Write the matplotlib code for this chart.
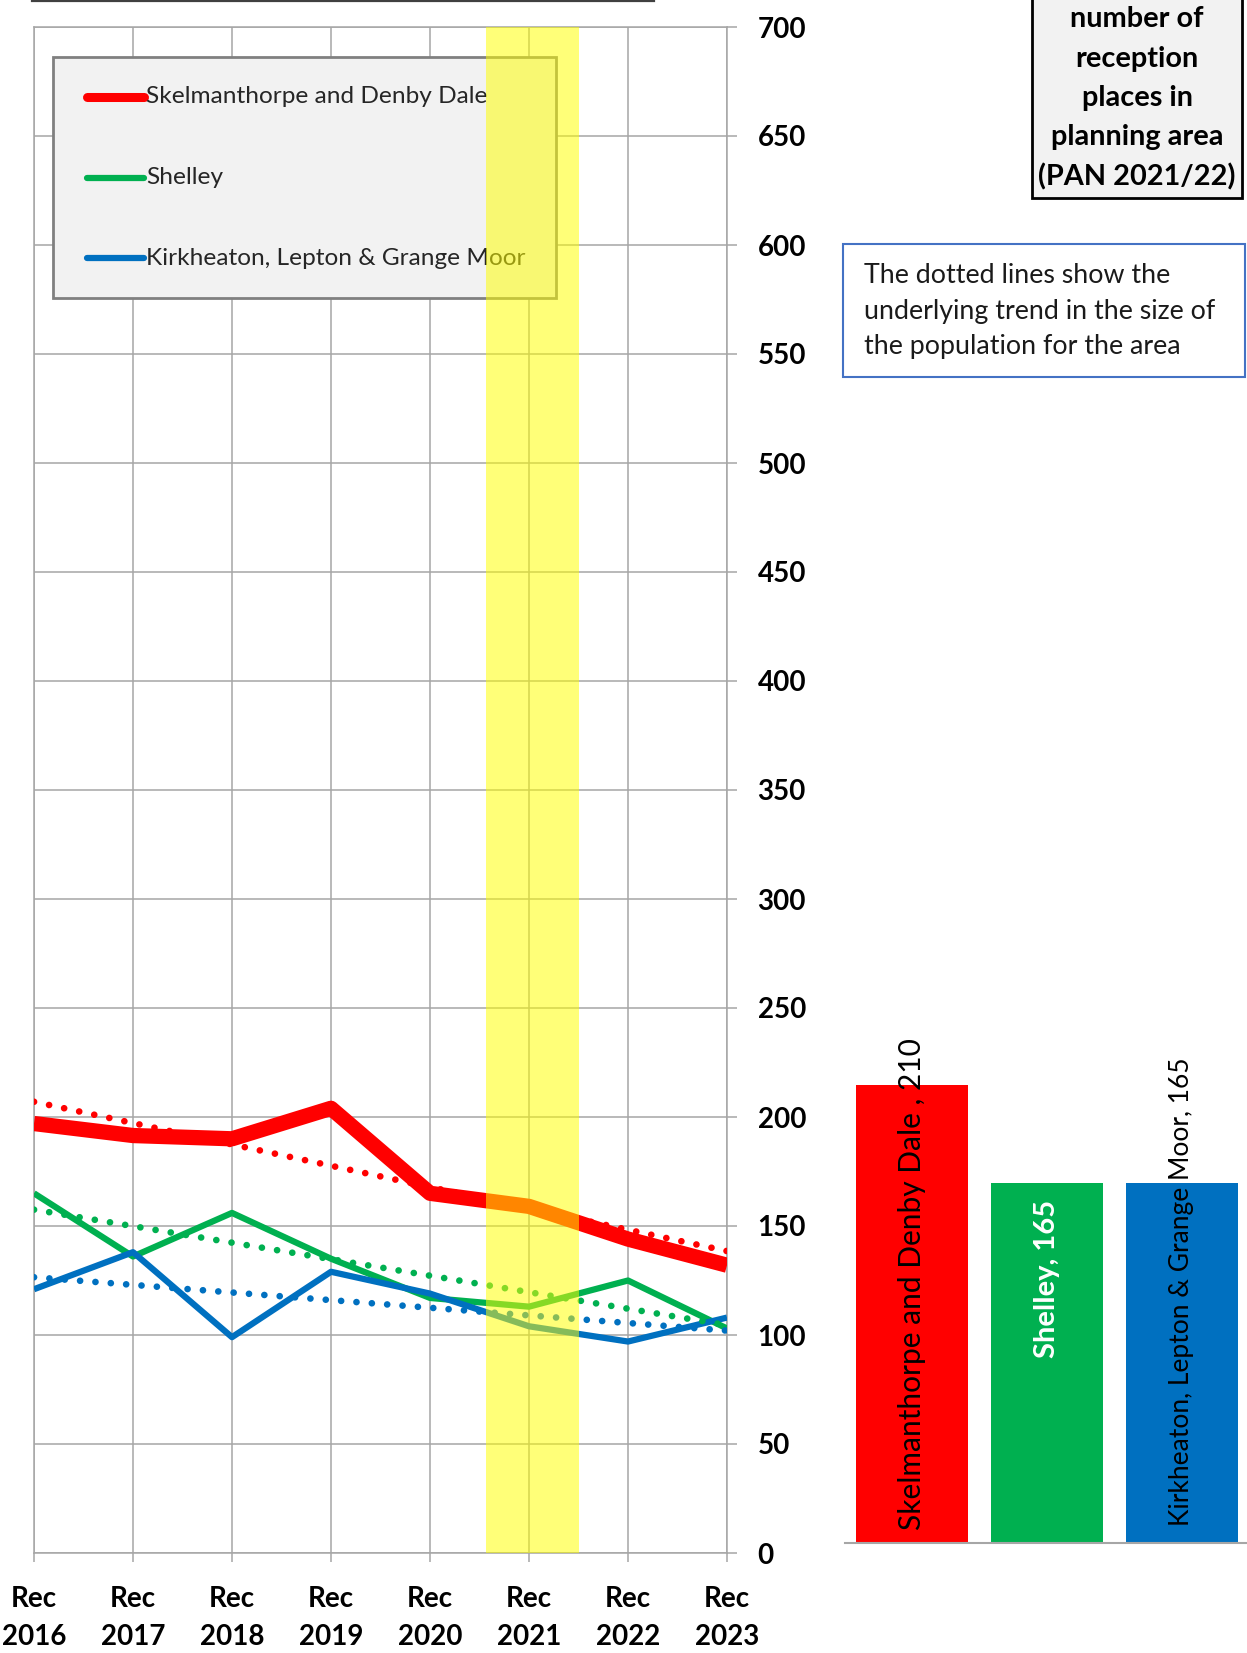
import matplotlib
matplotlib.use("Agg")
import matplotlib.pyplot as plt
from matplotlib.lines import Line2D
from matplotlib.patches import Rectangle
import numpy as np

plt.rcParams['font.family'] = ['Lato', 'DejaVu Sans']

# ---------------------------------------------------------------------------
# data
# ---------------------------------------------------------------------------
YEARS = ["Rec\n2016", "Rec\n2017", "Rec\n2018", "Rec\n2019",
         "Rec\n2020", "Rec\n2021", "Rec\n2022", "Rec\n2023"]
AREAS = ["Skelmanthorpe and Denby Dale", "Shelley",
         "Kirkheaton, Lepton & Grange Moor"]
SKEL = [197, 191.5, 190, 204, 165, 159, 144, 132]
SHELLEY = [165, 136, 156, 135, 117, 113, 125, 103]
KIRK = [121, 138, 99, 129, 119, 104, 97, 108]
# linear trend lines: value at first and last year
SKEL_TREND = [207, 138.5]
SHELLEY_TREND = [157.5, 104.5]
KIRK_TREND = [126.5, 102]
# planned admission numbers 2021/22
PAN_LABELS = ["Skelmanthorpe and Denby Dale , 210", "Shelley, 165",
              "Kirkheaton, Lepton & Grange Moor, 165"]
PAN_VALUES = [210, 165, 165]

RED = "#FF0000"
GREEN = "#00B050"
BLUE = "#0070C0"
GRID = "#A6A6A6"
COLORS = [RED, GREEN, BLUE]

W, H = 1247, 1653

fig = plt.figure(figsize=(W / 100, H / 100), dpi=100)
fig.patch.set_facecolor("white")

# ---------------------------------------------------------------------------
# line chart
# ---------------------------------------------------------------------------
ax = fig.add_axes([34 / W, (H - 1553) / H, 693 / W, 1526 / H])
x = np.arange(len(YEARS))
ax.set_xlim(0, len(YEARS) - 1)
ax.set_ylim(0, 700)
ax.set_xticks(x, YEARS)
ax.set_yticks(np.arange(0, 701, 50))
ax.grid(True, color=GRID, lw=1.1, zorder=0)
ax.set_axisbelow(True)
for s in ax.spines.values():
    s.set_color(GRID)
    s.set_linewidth(1.1)
ax.yaxis.tick_right()
ax.tick_params(axis="y", direction="out", length=7, width=1.1, color=GRID,
               pad=15, labelsize=20)
ax.tick_params(axis="x", direction="out", length=6.5, width=1.1, color=GRID,
               pad=17.5, labelsize=20)
for lab in ax.get_yticklabels():
    lab.set_fontweight("bold")
for lab in ax.get_xticklabels():
    lab.set_fontweight("bold")
    lab.set_linespacing(1.55)

series = [(SKEL, SKEL_TREND, RED, 11), (SHELLEY, SHELLEY_TREND, GREEN, 4.5),
          (KIRK, KIRK_TREND, BLUE, 4.5)]
for z, (vals, trend, col, lw) in zip([5, 3, 4], series):
    ax.plot(x, vals, color=col, lw=lw, solid_joinstyle="round",
            solid_capstyle="butt", zorder=z)
for vals, trend, col, lw in series:
    ax.plot([x[0], x[-1]], trend, color=col, lw=4.8, ls=(0, (0.01, 2.3)),
            dash_capstyle="round", zorder=6)

# legend box (sits under the highlight band)
ax.add_patch(Rectangle((0.0268, 0.8224), 0.7264, 0.158, transform=ax.transAxes,
                       facecolor="#F2F2F2", edgecolor="#808080", lw=2,
                       zorder=8))
for yy, name, col, lw in zip([0.9542, 0.9011, 0.8486], AREAS, COLORS,
                             [6.5, 4.5, 4.5]):
    ax.add_line(Line2D([0.0771, 0.1592], [yy, yy], transform=ax.transAxes,
                       color=col, lw=lw, solid_capstyle="round", zorder=9))
    ax.text(0.1622, yy, name, transform=ax.transAxes, fontsize=17.6,
            color="#262626", va="center", ha="left", zorder=9)

# 2021 highlight
ax.axvspan(4.57, 5.51, color="#FFFF00", alpha=0.53, lw=0, zorder=10)

# ---------------------------------------------------------------------------
# PAN bar chart
# ---------------------------------------------------------------------------
axb = fig.add_axes([844.5 / W, (H - 1543) / H, 405 / W, 1526 / H])
xb = np.arange(len(PAN_VALUES))
axb.bar(xb, PAN_VALUES, width=0.83, color=COLORS, zorder=2)
axb.set_xlim(-0.5, 2.5)
axb.set_ylim(0, 700)
axb.set_xticks([])
axb.set_yticks([])
for k, s in axb.spines.items():
    s.set_visible(k == "bottom")
axb.spines["bottom"].set_color(GRID)
axb.spines["bottom"].set_linewidth(1.5)

axb.text(xb[0], 6, PAN_LABELS[0], rotation=90, ha="center", va="bottom",
         fontsize=21.5, color="black", zorder=3)
axb.text(xb[1], PAN_VALUES[1] - 7.5, PAN_LABELS[1], rotation=90, ha="center",
         va="top", fontsize=21, fontweight="bold", color="white", zorder=3)
axb.text(xb[2], 8, PAN_LABELS[2], rotation=90, ha="center", va="bottom",
         fontsize=19, color="black", zorder=3)

# ---------------------------------------------------------------------------
# boxes and notes
# ---------------------------------------------------------------------------
fig.add_artist(Line2D([32 / W, 654 / W], [1 - 1 / H, 1 - 1 / H],
                      color="#404040", lw=1.6))

fig.add_artist(Rectangle((1032 / W, 1 - 198 / H), 210 / W, 0.2,
                         transform=fig.transFigure, facecolor="#F2F2F2",
                         edgecolor="black", lw=2))
title_lines = ["number of", "reception", "places in", "planning area",
               "(PAN 2021/22)"]
for i, line in enumerate(title_lines):
    fig.text(1137 / W, 1 - (19 + 39.5 * i) / H, line, ha="center",
             va="center", fontsize=20.8, fontweight="bold", color="black")

fig.add_artist(Rectangle((843 / W, 1 - 377 / H), 402 / W, 133 / H,
                         transform=fig.transFigure, facecolor="white",
                         edgecolor="#4472C4", lw=1.5))
note_lines = ["The dotted lines show the", "underlying trend in the size of",
              "the population for the area"]
for i, line in enumerate(note_lines):
    fig.text(864 / W, 1 - (283 + 35.5 * i) / H, line, ha="left",
             va="baseline", fontsize=19.3, color="#1a1a1a")

fig.savefig("out.png", dpi=100, facecolor="white")
